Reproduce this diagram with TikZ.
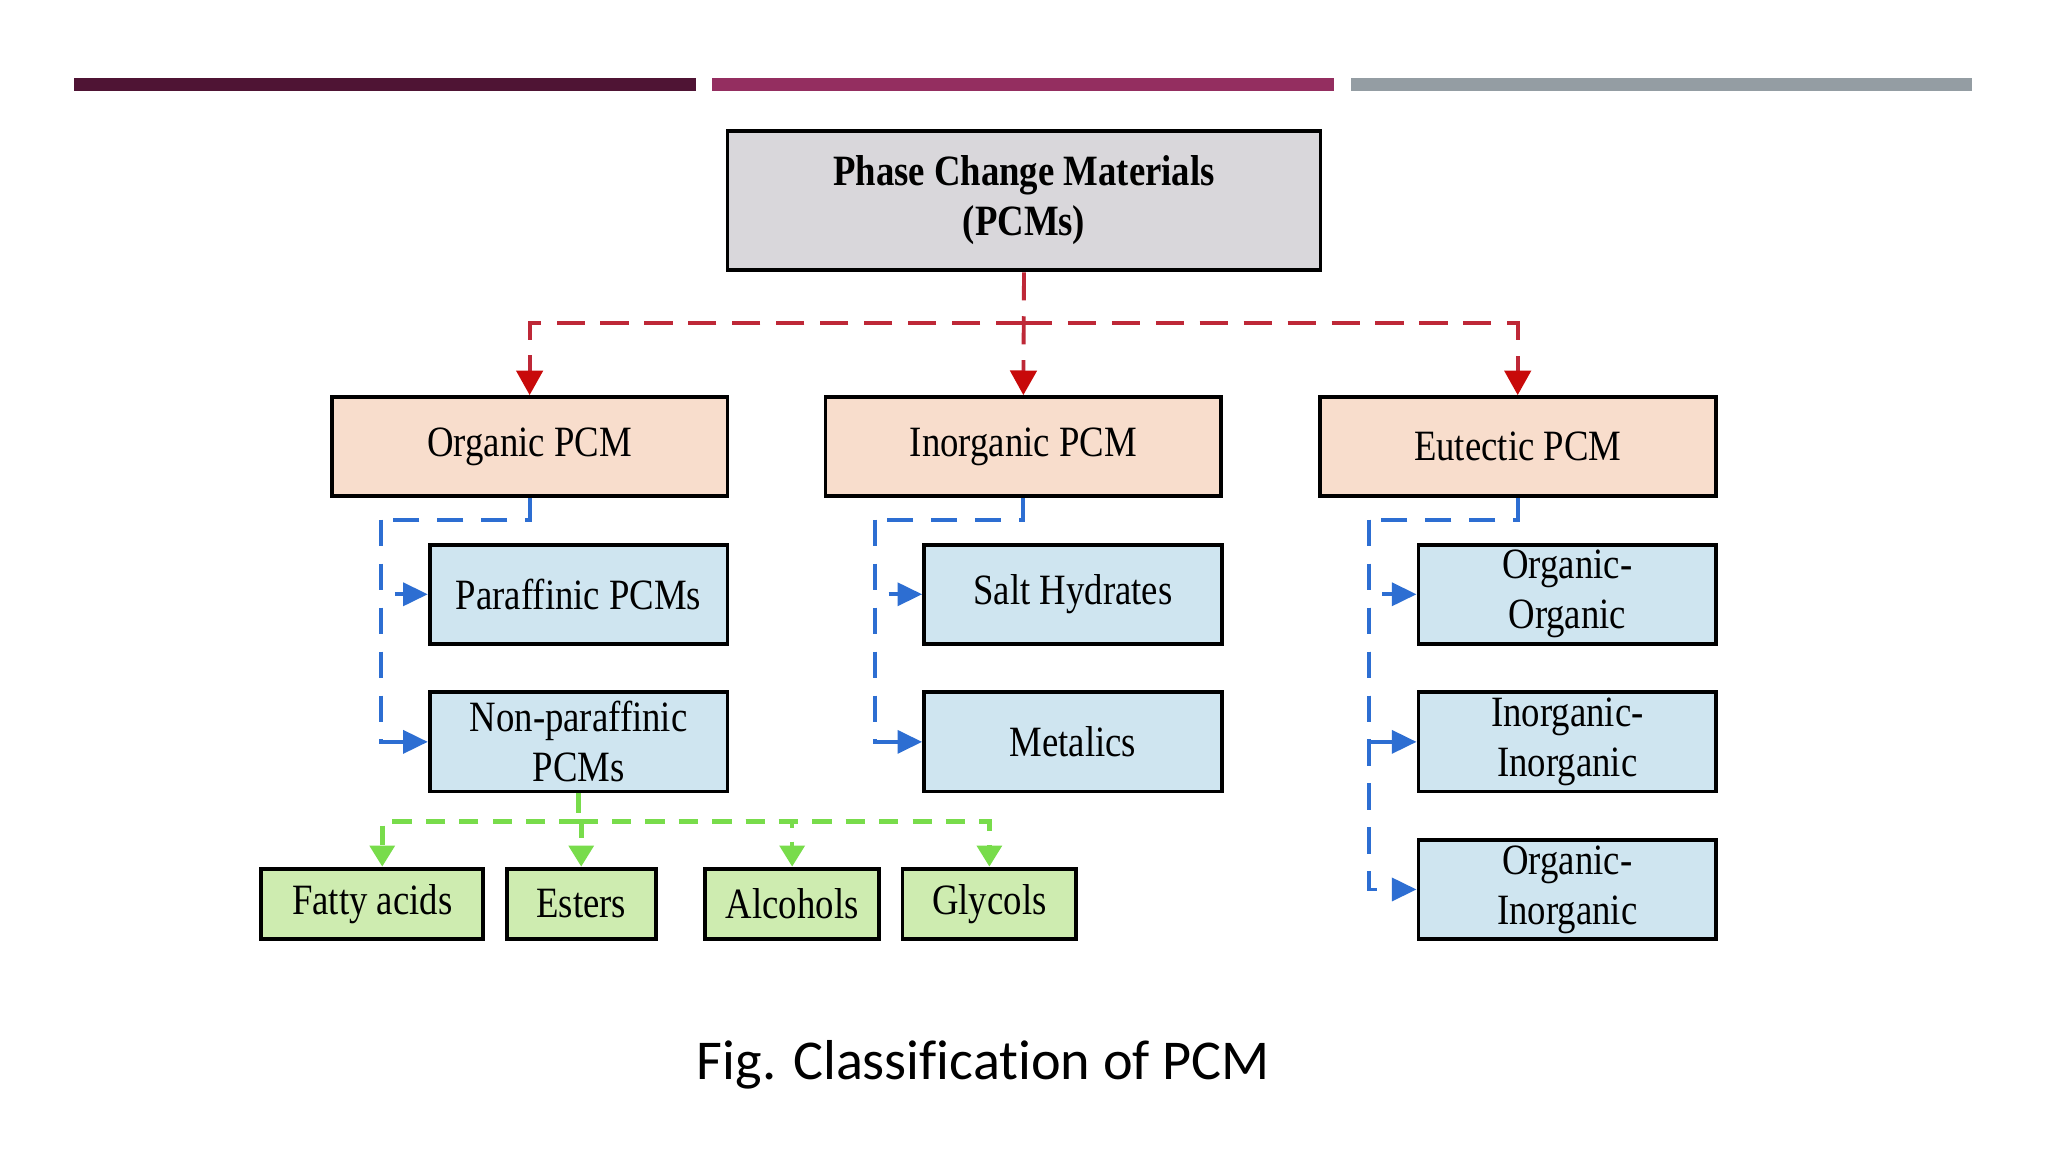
\documentclass[tikz,border=0pt]{standalone}
\usepackage{fontspec}
\newfontfamily\BoxFont[FakeStretch=0.85]{Liberation Serif}
\newfontfamily\CapFont[Ligatures=NoCommon]{Carlito}
\usepackage{xcolor}
\definecolor{ColBar1}{RGB}{79,20,52}
\definecolor{ColBar2}{RGB}{148,46,96}
\definecolor{ColBar3}{RGB}{148,157,163}
\definecolor{ColTop}{RGB}{217,215,219}
\definecolor{ColMain}{RGB}{248,221,204}
\definecolor{ColSub}{RGB}{207,229,240}
\definecolor{ColLeaf}{RGB}{206,236,176}
\definecolor{ColRed}{RGB}{190,40,55}
\definecolor{ColRedHead}{RGB}{200,10,10}
\definecolor{ColBlue}{RGB}{45,110,210}
\definecolor{ColGreen}{RGB}{120,220,75}
\usepackage{tikz}
\usetikzlibrary{arrows.meta}
\tikzstyle{Box}=[draw=black,line width=1.1pt,inner sep=0pt,align=center,
font=\BoxFont\fontsize{12.3}{14.2}\selectfont]
\tikzstyle{BoxTop}=[Box,fill=ColTop,minimum width=5.930cm,minimum height=1.398cm,
font=\BoxFont\bfseries\fontsize{12.3}{14.2}\selectfont]
\tikzstyle{BoxMain}=[Box,fill=ColMain,minimum width=3.957cm,minimum height=0.993cm]
\tikzstyle{BoxSub}=[Box,fill=ColSub,minimum width=2.978cm,minimum height=0.993cm]
\tikzstyle{BoxLeaf}=[Box,fill=ColLeaf,minimum height=0.705cm]
\tikzstyle{LinkRed}=[draw=ColRed,line width=1.1pt,dash pattern=on 8pt off 4.5pt,
-{Triangle[length=7pt,width=7.5pt,color=ColRedHead]}]
\tikzstyle{LinkBlue}=[draw=ColBlue,line width=1.1pt,dash pattern=on 7.5pt off 5pt,
-{Triangle[length=7pt,width=6.5pt]}]
\tikzstyle{LinkGreen}=[draw=ColGreen,line width=1.3pt,dash pattern=on 5.5pt off 4pt,
-{Triangle[length=6pt,width=7pt]}]

\begin{document}
\begin{tikzpicture}[x=0.013061cm,y=-0.013061cm]
    \useasboundingbox[fill=white] (0,0) rectangle (1568,882);
    % top bars
    \fill[ColBar1] (57,60) rectangle (533,70);
    \fill[ColBar2] (545,60) rectangle (1021,70);
    \fill[ColBar3] (1034,60) rectangle (1510,70);
    % boxes
    \node[BoxTop](pcm)at(784,153.5){Phase Change Materials\\(PCMs)};
    \node[BoxMain](organic)at(405.5,342){Organic PCM};
    \node[BoxMain](inorganic)at(783.5,342){Inorganic PCM};
    \node[BoxMain](eutectic)at(1162,342){Eutectic PCM};
    \node[BoxSub](paraffin)at(443,455){Paraffinic PCMs};
    \node[BoxSub](nonparaffin)at(443,568){Non-paraffinic\\PCMs};
    \node[BoxSub](salt)at(821.5,455){Salt Hydrates};
    \node[BoxSub](metal)at(821.5,568){Metalics};
    \node[BoxSub](orgorg)at(1200,455){Organic-\\Organic};
    \node[BoxSub](inoinorg)at(1200,568){Inorganic-\\Inorganic};
    \node[BoxSub](orginorg)at(1200,681){Organic-\\Inorganic};
    \node[BoxLeaf,minimum width=2.220cm](fatty)at(285,692){Fatty acids};
    \node[BoxLeaf,minimum width=1.489cm](esters)at(445,692){Esters};
    \node[BoxLeaf,minimum width=1.737cm](alcohols)at(606.5,692){Alcohols};
    \node[BoxLeaf,minimum width=1.737cm](glycols)at(757.5,692){Glycols};
    % junctions
    \coordinate(rsplit)at(784,247);
    \coordinate(osplit)at(292,398);
    \coordinate(isplit)at(670,398);
    \coordinate(esplit)at(1048,398);
    \coordinate(gsplit)at(443,629);
    % red links
    \draw[LinkRed](pcm.south)--(inorganic.north);
    \draw[LinkRed](rsplit)-|(organic.north);
    \draw[LinkRed](rsplit)-|(eutectic.north);
    % blue links
    \draw[LinkBlue,-](organic.south)|-(osplit);
    \draw[LinkBlue](osplit)|-(paraffin.west);
    \draw[LinkBlue](osplit)|-(nonparaffin.west);
    \draw[LinkBlue,-](inorganic.south)|-(isplit);
    \draw[LinkBlue](isplit)|-(salt.west);
    \draw[LinkBlue](isplit)|-(metal.west);
    \draw[LinkBlue,-](eutectic.south)|-(esplit);
    \draw[LinkBlue](esplit)|-(orgorg.west);
    \draw[LinkBlue](esplit)|-(inoinorg.west);
    \draw[LinkBlue](esplit)|-(orginorg.west);
    % green links
    \draw[LinkGreen,-](nonparaffin.south)--(gsplit);
    \draw[LinkGreen](gsplit)-|([xshift=0.1cm]fatty.north);
    \draw[LinkGreen](gsplit)-|(esters.north);
    \draw[LinkGreen](gsplit)-|(alcohols.north);
    \draw[LinkGreen](gsplit)-|(glycols.north);
    % caption
    \node[font=\CapFont\fontsize{16}{19}\selectfont](caption)at(753,815){Fig. Classification of PCM};
\end{tikzpicture}
\end{document}
